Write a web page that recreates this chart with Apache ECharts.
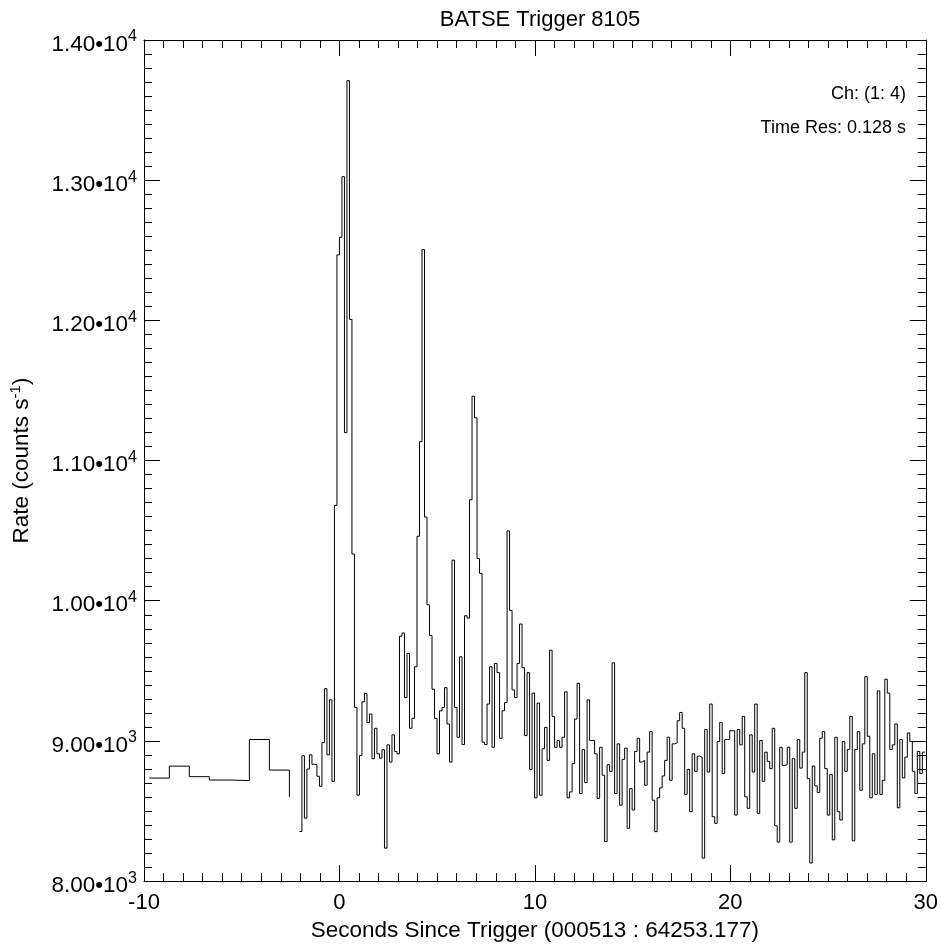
<!DOCTYPE html>
<html><head><meta charset="utf-8">
<script src="https://cdn.jsdelivr.net/npm/echarts@6/dist/echarts.min.js"></script>
<style>html,body{margin:0;padding:0;background:#fff}#c{width:941px;height:947px}</style>
</head><body><div id="c"></div>
<script>
// ---- data ----
const coarseStart = -9.728;   // s
const coarseBin = 1.024;      // s
const coarseRates = [8735, 8820, 8745, 8721, 8717, 9010, 8792, 8601];

const fineStart = -2.048;     // s
const fineBin = 0.128;        // s
const fineRates = [
  8354, 8894, 8449, 8799, 8901, 8833, 8830, 8748, 8677, 8988, 9373, 8901, 9293, 8712,
  10680, 12467, 12593, 13025, 11199, 13710, 12007,
  10333, 9239, 8613, 8896, 9279, 9338, 9132, 9192, 8873, 9090,
  8908, 8877, 8937, 8235, 8972, 8849, 9043, 8925, 8908, 9747,
  9770, 9309, 9624, 9090, 9161, 9529, 10460, 11135, 12505, 10597,
  9971, 9752, 9369, 9161, 8908, 9215, 9239, 9380, 9121, 8849,
  10290, 9239, 9026, 9600, 8974, 9893, 9876, 10720, 11459, 11305,
  10301, 10195, 8991, 8974, 9263, 9529, 8955, 9553, 9487, 9019,
  9215, 9274, 10498, 9931, 9364, 9309, 9553, 9834, 9522, 9038,
  9487, 8797, 9341, 8594, 9270, 8613, 8944, 9097, 8861, 9647,
  9175, 8955, 9003, 8955, 9026, 9350, 8594, 8636, 8838, 9156,
  9411, 8625, 8939, 8703, 9293,
  9003, 9003, 8908, 8590, 8955, 8755, 8282, 8830, 8783, 9557,
  8625, 8979, 8542, 8868, 8948, 8377, 8660, 8507, 8925, 9019,
  8849, 8861, 8684, 8920, 9066, 8577, 8353, 8594, 8665, 8750,
  8861, 9026, 8719, 8979, 8986, 9144, 9203, 9090, 8618, 8797,
  8495, 8908, 8783, 8891, 8884, 8164, 9081, 8778, 9263, 8459,
  8412, 8996, 9132, 8767, 9010, 9010, 9073, 9073, 8471, 9081,
  8972, 9175, 8601, 8519, 9043, 8778, 9263, 8483, 9003, 8712,
  8920, 8854, 8802, 9090, 8395, 8278, 8955, 8825, 8830, 8955,
  8278, 8873, 8519, 9010, 8806, 8920, 9487, 8731, 8129, 8821,
  8679, 8632, 9019, 9066, 8802, 8471, 8760, 8294, 9026, 8495,
  8436, 8996, 8783, 8939, 9175, 8287, 8939, 9066, 8648, 8979,
  9458, 9033, 8594, 8908, 8618, 9357, 8618, 8719, 9440, 9341,
  8939, 8972, 9121, 8523, 9010, 8736, 8884, 9057, 8996, 8783,
  8625, 8925, 8767, 8920
];

const xMin = -10, xMax = 30, xStep = 10;
const yMin = 8000, yMax = 14000, yStep = 1000;

const titleText = 'BATSE Trigger 8105';
const xName = 'Seconds Since Trigger (000513 : 64253.177)';
const chText = 'Ch: (1: 4)';
const resText = 'Time Res: 0.128 s';

// ---- build ----
const FONT = "'Liberation Sans', Arial, Helvetica, sans-serif";
const coarseData = coarseRates.map((v, i) => [coarseStart + i * coarseBin, v]);
const fineData = fineRates.map((v, i) => [fineStart + i * fineBin, v]);
fineData.push([fineStart + fineRates.length * fineBin, fineRates[fineRates.length - 1]]);

function yFmt(v) {
  const e = Math.floor(Math.log10(v) + 1e-9);
  const m = (v / Math.pow(10, e)).toFixed(2);
  return '{m|' + m + '\u202210}{e|' + e + '}';
}
const yRich = {
  m: { fontSize: 22.5, fontFamily: FONT, color: '#000' },
  e: { fontSize: 16, fontFamily: FONT, color: '#000', padding: [0, 0, 15, 0] }
};

const lineStyle = { color: '#000', width: 1 };
const tick = { show: true, inside: true, length: 16, lineStyle: { color: '#000', width: 1 } };
const minor = { show: true, splitNumber: 10, length: 8, lineStyle: { color: '#000', width: 1 } };

const chart = echarts.init(document.getElementById('c'), null, { renderer: 'canvas' });
chart.setOption({
  backgroundColor: '#fff',
  animation: false,
  title: {
    text: titleText, left: 535, top: 4, textAlign: 'center',
    textStyle: { fontSize: 22, fontWeight: 'normal', fontFamily: FONT, color: '#000' }
  },
  grid: { left: 144, right: 15, top: 40, bottom: 60.5 },
  xAxis: [
    {
      type: 'value', position: 'bottom', min: xMin, max: xMax, interval: xStep,
      axisLine: { show: true, onZero: false, lineStyle },
      axisTick: tick, minorTick: minor, splitLine: { show: false },
      axisLabel: { fontSize: 22, fontFamily: FONT, color: '#000', margin: 11 },
      name: xName, nameLocation: 'middle', nameGap: 31,
      nameTextStyle: { fontSize: 22.5, fontFamily: FONT, color: '#000' }
    },
    {
      type: 'value', position: 'top', min: xMin, max: xMax, interval: xStep,
      axisLine: { show: true, onZero: false, lineStyle },
      axisTick: tick, minorTick: minor, splitLine: { show: false },
      axisLabel: { show: false }
    }
  ],
  yAxis: [
    {
      type: 'value', position: 'left', min: yMin, max: yMax, interval: yStep,
      axisLine: { show: true, onZero: false, lineStyle },
      axisTick: tick, minorTick: minor, splitLine: { show: false },
      axisLabel: { formatter: yFmt, rich: yRich, margin: 7, padding: [9, 0, 0, 0] },
      name: '{a|Rate (counts s}{s|-1}{a|)}', nameLocation: 'middle', nameGap: 108, nameRotate: 90,
      nameTextStyle: {
        rich: {
          a: { fontSize: 22.5, fontFamily: FONT, color: '#000' },
          s: { fontSize: 15, fontFamily: FONT, color: '#000', padding: [0, 0, 13, 0] }
        }
      }
    },
    {
      type: 'value', position: 'right', min: yMin, max: yMax, interval: yStep,
      axisLine: { show: true, onZero: false, lineStyle },
      axisTick: tick, minorTick: minor, splitLine: { show: false },
      axisLabel: { show: false }
    }
  ],
  graphic: [
    { type: 'text', right: 35, top: 85, style: { text: chText, font: '18px ' + FONT, fill: '#000', textAlign: 'right' } },
    { type: 'text', right: 35, top: 119, style: { text: resText, font: '18px ' + FONT, fill: '#000', textAlign: 'right' } }
  ],
  series: [
    { type: 'line', data: coarseData, step: 'end', showSymbol: false, symbol: 'none',
      lineStyle: { color: '#000', width: 1 }, xAxisIndex: 0, yAxisIndex: 0 },
    { type: 'line', data: fineData, step: 'end', showSymbol: false, symbol: 'none',
      lineStyle: { color: '#000', width: 1 }, xAxisIndex: 0, yAxisIndex: 0 }
  ]
});
</script>
</body></html>
